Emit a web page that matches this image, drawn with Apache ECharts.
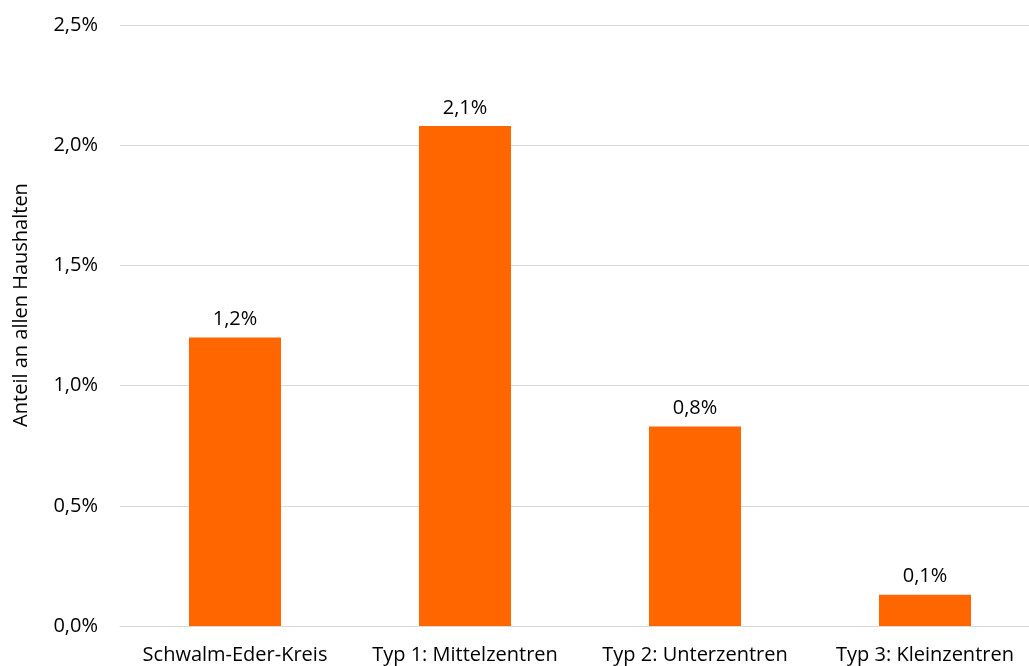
<!DOCTYPE html>
<html><head><meta charset="utf-8">
<script src="https://cdn.jsdelivr.net/npm/echarts@6/dist/echarts.min.js"></script>
<style>html,body{margin:0;padding:0;background:#fff}#c{width:1029px;height:666px}</style>
</head><body><div id="c"></div>
<script>
const categories = ['Schwalm-Eder-Kreis', 'Typ 1: Mittelzentren', 'Typ 2: Unterzentren', 'Typ 3: Kleinzentren'];
const values = [1.2, 2.08, 0.83, 0.13];
const yTicks = {min: 0, max: 2.5, interval: 0.5};
const yTitle = 'Anteil an allen Haushalten';
const fmt = v => v.toFixed(1).replace('.', ',') + '%';
const font = '"Open Sans", sans-serif';
const chart = echarts.init(document.getElementById('c'));
chart.setOption({
  animation: false,
  grid: {left: 120, top: 25, width: 920, height: 601, containLabel: false, outerBoundsMode: 'none'},
  xAxis: {
    type: 'category', data: categories,
    axisLine: {lineStyle: {color: '#d9d9d9', width: 1}},
    axisTick: {show: false},
    axisLabel: {color: '#000', fontFamily: font, fontSize: 20, margin: 19, interval: 0, hideOverlap: false}
  },
  yAxis: {
    type: 'value', min: yTicks.min, max: yTicks.max, interval: yTicks.interval,
    axisLine: {show: false}, axisTick: {show: false},
    splitLine: {lineStyle: {color: '#d9d9d9', width: 1}},
    axisLabel: {color: '#000', fontFamily: font, fontSize: 20, margin: 22, formatter: v => fmt(v)}
  },
  graphic: [{
    type: 'text', x: 11, y: 305, rotation: Math.PI / 2,
    style: {text: yTitle, fill: '#000', font: '20px ' + font, textAlign: 'center', textVerticalAlign: 'top'}
  }],
  series: [{
    type: 'bar', data: values, barWidth: '40%',
    itemStyle: {color: '#ff6600'},
    label: {show: true, position: 'top', distance: 8, color: '#000', fontFamily: font, fontSize: 20,
      formatter: p => fmt(p.value)}
  }]
});
</script></body></html>
